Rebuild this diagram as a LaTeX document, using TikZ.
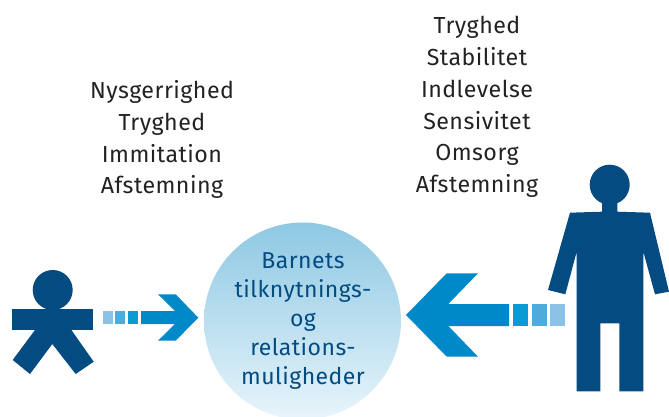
\documentclass[tikz,border=0pt]{standalone}
\usepackage{fontspec}
\setmainfont{Fira Sans}[LetterSpace=2]
\definecolor{dark}{HTML}{034B80}
\definecolor{arrowblue}{HTML}{0089C8}
\definecolor{sqa}{HTML}{0A9BD4}
\definecolor{sqb}{HTML}{4FABDC}
\definecolor{sqc}{HTML}{8CC2E7}
\definecolor{txt}{HTML}{222222}
\definecolor{ctop}{HTML}{8EC8E3}
\definecolor{cbot}{HTML}{E8F5FB}
\tikzset{
  figure/.style={fill=dark,draw=none},
  arrowshape/.style={fill=arrowblue,draw=none},
  listtext/.style={text=txt,font=\fontsize{23.2}{31.8}\selectfont,align=center,inner sep=0pt},
  circletext/.style={text=dark,font=\fontsize{23}{29.2}\selectfont,align=center,inner sep=0pt},
  headshape/.style={circle,fill=dark,draw=none,inner sep=0pt,minimum size=40pt}
}
\begin{document}
\begin{tikzpicture}[x=1pt,y=-1pt]
\useasboundingbox (0,0) rectangle (669,417);
\begin{scope}
\clip (0,0) rectangle (669,417);
\node[circle,minimum size=197pt,inner sep=0pt,draw=none,top color=ctop,bottom color=cbot,middle color=ctop!50!cbot] (hub) at (302.5,321) {};
\end{scope}
\node[circletext] (hubtext) at (303,321) {Barnets\\tilknytnings-\\og\\relations-\\muligheder};
\node[listtext] (leftlist) at (162,139.7) {Nysgerrighed\\Tryghed\\Immitation\\Afstemning};
\node[listtext] (rightlist) at (477,107) {Tryghed\\Stabilitet\\Indlevelse\\Sensivitet\\Omsorg\\Afstemning};
% child
\node[headshape] (childhead) at (52.7,290) {};
\fill[figure] (12,309) rectangle (93,329.5);
\fill[figure] (35.7,329) -- (12.7,360) -- (30,374) -- (52.3,344) -- (75.7,374) -- (93.7,361.7) -- (70.7,329) -- cycle;
% adult
\node[headshape] (adulthead) at (609.7,184.7) {};
\fill[figure] (602,200) -- (617.3,200) -- (617.3,211.7) -- (650,212.7) -- (669,291.7) -- (655,294.3) -- (643.3,251.7) -- (643.3,391.3) -- (619.3,391.3) -- (619.3,323.3) -- (600.3,323.3) -- (600.3,391.3) -- (576.7,391.3) -- (576.7,251.7) -- (565.3,294.3) -- (548,290) -- (570,212.7) -- (602,211.7) -- cycle;
% right arrow
\fill[sqc] (103,311) rectangle (113,324);
\fill[sqb] (115,311) rectangle (125,324);
\fill[sqa] (128,311) rectangle (138,324);
\fill[arrowshape] (141,311) -- (175,311) -- (158,294.3) -- (175.7,294.3) -- (198.3,317.7) -- (175.7,340.7) -- (158,340.7) -- (175,324) -- (141,324) -- cycle;
% left arrow
\fill[sqc] (550,304) rectangle (565,326);
\fill[sqb] (532,304) rectangle (547,326);
\fill[sqa] (513.3,304) rectangle (528,326);
\fill[arrowshape] (406,315) -- (446.7,273.3) -- (478,273.3) -- (448.3,304) -- (509,304) -- (509,326) -- (448.3,326) -- (478,356.7) -- (446.7,356.7) -- cycle;
\end{tikzpicture}
\end{document}
